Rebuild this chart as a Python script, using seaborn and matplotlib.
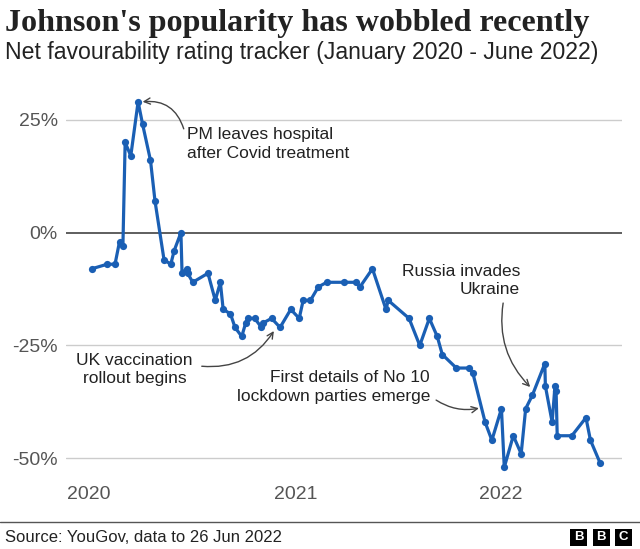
import matplotlib
matplotlib.use("Agg")
import matplotlib.pyplot as plt
from matplotlib.patches import Rectangle
import seaborn as sns
import pandas as pd

# ---- data ----
dates = [
    "2020-01-06", "2020-02-02", "2020-02-16", "2020-02-24", "2020-03-01", "2020-03-05",
    "2020-03-15", "2020-03-28", "2020-04-05", "2020-04-19", "2020-04-27", "2020-05-13",
    "2020-05-25", "2020-05-31", "2020-06-12", "2020-06-14", "2020-06-22", "2020-06-24",
    "2020-07-03", "2020-07-30", "2020-08-12", "2020-08-21", "2020-08-26", "2020-09-08",
    "2020-09-16", "2020-09-28", "2020-10-05", "2020-10-09", "2020-10-21", "2020-11-02",
    "2020-11-05", "2020-11-20", "2020-12-05", "2020-12-24", "2021-01-08", "2021-01-15",
    "2021-01-28", "2021-02-11", "2021-02-26", "2021-03-29", "2021-04-18", "2021-04-26",
    "2021-05-18", "2021-06-11", "2021-06-15", "2021-07-22", "2021-08-10", "2021-08-27",
    "2021-09-10", "2021-09-19", "2021-10-14", "2021-11-05", "2021-11-12", "2021-12-04",
    "2021-12-16", "2022-01-02", "2022-01-07", "2022-01-23", "2022-02-06", "2022-02-14",
    "2022-02-26", "2022-03-20", "2022-03-21", "2022-04-02", "2022-04-07", "2022-04-09",
    "2022-04-11", "2022-05-07", "2022-06-01", "2022-06-09", "2022-06-26",
]
net_rating = [
    -8, -7, -7, -2, -3, 20,
    17, 29, 24, 16, 7, -6,
    -7, -4, 0, -9, -8, -9,
    -11, -9, -15, -11, -17, -18,
    -21, -23, -20, -19, -19, -21,
    -20, -19, -21, -17, -19, -15,
    -15, -12, -11, -11, -11, -12,
    -8, -17, -15, -19, -25, -19,
    -23, -27, -30, -30, -31, -42,
    -46, -39, -52, -45, -49, -39,
    -36, -29, -34, -42, -34, -35,
    -45, -45, -41, -46, -51,
]
ytick_values = [25, 0, -25, -50]
ytick_labels = ["25%", "0%", "-25%", "-50%"]
xtick_dates = ["2020-01-01", "2021-01-01", "2022-01-01"]
xtick_labels = ["2020", "2021", "2022"]

title = "Johnson's popularity has wobbled recently"
subtitle = "Net favourability rating tracker (January 2020 - June 2022)"
source = "Source: YouGov, data to 26 Jun 2022"

df = pd.DataFrame({"date": pd.to_datetime(dates), "rating": net_rating})

# ---- figure ----
sns.set_theme(style="white")
plt.rcParams["font.family"] = ["Liberation Sans", "DejaVu Sans"]

W, H = 640, 549
fig = plt.figure(figsize=(W / 100, H / 100), dpi=100)
ax = fig.add_axes([66 / W, 1 - 475 / H, 556 / W, 380 / H])

# gridlines
for v in ytick_values:
    ax.axhline(v, color="#333333" if v == 0 else "#cccccc", lw=1.1 if v == 0 else 1.0, zorder=1)

blue = "#1A5FB4"
sns.lineplot(data=df, x="date", y="rating", ax=ax, color=blue, lw=2.3,
             marker="o", markersize=5.2, markeredgewidth=0, estimator=None, zorder=3)

ax.set_ylim(-53.7, 30.5)
ax.set_xlim(pd.Timestamp("2019-11-21"), pd.Timestamp("2022-08-04"))
ax.set_yticks(ytick_values)
ax.set_yticklabels(ytick_labels)
ax.set_xticks(pd.to_datetime(xtick_dates))
ax.set_xticklabels(xtick_labels)
ax.tick_params(axis="both", length=0, labelsize=14, labelcolor="#555555")
ax.tick_params(axis="y", pad=6)
ax.tick_params(axis="x", pad=8)
ax.set_xlabel("")
ax.set_ylabel("")
for s in ax.spines.values():
    s.set_visible(False)
ax.patch.set_alpha(0)

# ---- annotations ----
tc = "#222222"
ac = "#444444"
afs = 12.5
lsp = 1.3


def arrow(xy, xytext, rad):
    ax.annotate("", xy=(pd.Timestamp(xy[0]), xy[1]), xytext=(pd.Timestamp(xytext[0]), xytext[1]),
                arrowprops=dict(arrowstyle="->", color=ac, lw=1.0,
                                connectionstyle=f"arc3,rad={rad}", shrinkA=0, shrinkB=0,
                                mutation_scale=11), zorder=4)


ax.text(pd.Timestamp("2020-06-23"), 19.7, "PM leaves hospital\nafter Covid treatment",
        ha="left", va="center", fontsize=afs, color=tc, linespacing=lsp)
arrow(("2020-04-05", 29), ("2020-06-17", 23), 0.4)

ax.text(pd.Timestamp("2020-03-22"), -30.3, "UK vaccination\nrollout begins",
        ha="center", va="center", fontsize=afs, color=tc, linespacing=lsp)
arrow(("2020-11-24", -21.8), ("2020-07-19", -29.6), 0.3)

ax.text(pd.Timestamp("2022-02-04"), -10.6, "Russia invades\nUkraine",
        ha="right", va="center", fontsize=afs, color=tc, linespacing=lsp)
arrow(("2022-02-22", -34.2), ("2022-01-05", -15.6), 0.25)

ax.text(pd.Timestamp("2021-08-28"), -34.2, "First details of No 10\nlockdown parties emerge",
        ha="right", va="center", fontsize=afs, color=tc, linespacing=lsp)
arrow(("2021-11-23", -38.9), ("2021-09-08", -37.1), 0.2)

# ---- titles ----
fig.text(5 / W, 1 - 23 / H, title, ha="left", va="center", fontsize=23.1,
         fontweight="bold", color="#222222", family=["Liberation Serif", "DejaVu Serif"])
fig.text(5 / W, 1 - 52 / H, subtitle, ha="left", va="center", fontsize=16.6, color="#222222")

# ---- footer ----
fig.add_artist(plt.Line2D([0, 1], [1 - 522 / H, 1 - 522 / H], transform=fig.transFigure,
                          color="#555555", lw=1.0))
fig.text(5 / W, 1 - 537 / H, source, ha="left", va="center", fontsize=12.0, color="#222222")

for i, letter in enumerate(["B", "B", "C"]):
    x0 = 570 + i * 22.5
    fig.add_artist(Rectangle((x0 / W, 1 - 546 / H), 17 / W, 17 / H, transform=fig.transFigure,
                             facecolor="#000000", edgecolor="none"))
    fig.text((x0 + 8.5) / W, 1 - 537.5 / H, letter, ha="center", va="center", fontsize=9.5,
             fontweight="bold", color="white")

fig.savefig("out.png", dpi=100)
